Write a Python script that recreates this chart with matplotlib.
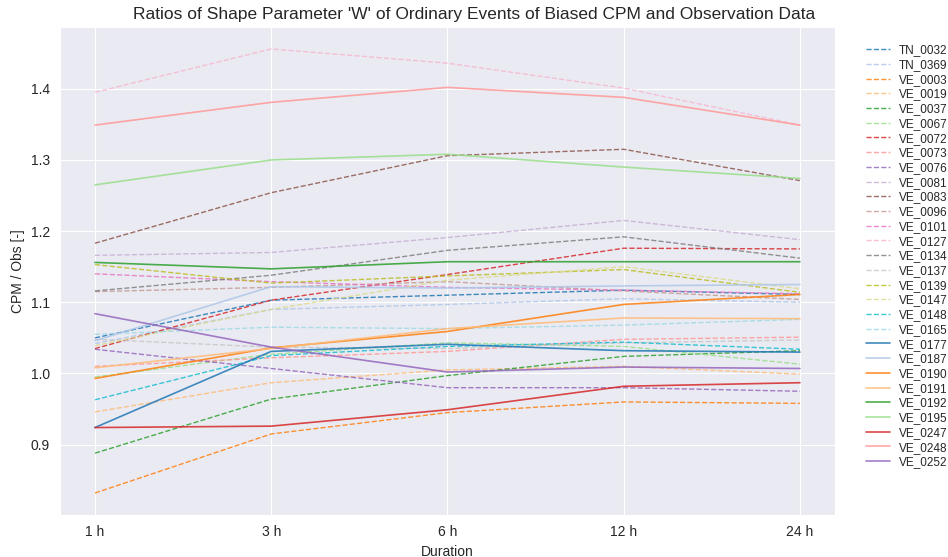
import numpy as np
import matplotlib
matplotlib.use("Agg")
import matplotlib.pyplot as plt
import seaborn as sns

sns.set_style("darkgrid")
plt.rcParams['font.family'] = ['Liberation Sans', 'DejaVu Sans']

# =========================
# DATA
# =========================

durations = ["1 h", "3 h", "6 h", "12 h", "24 h"]

stations_dashed = ["TN_0032", "TN_0369", "VE_0003", "VE_0019", "VE_0037",
                   "VE_0067", "VE_0072", "VE_0073", "VE_0076", "VE_0081",
                   "VE_0083", "VE_0096", "VE_0101", "VE_0127", "VE_0134",
                   "VE_0137", "VE_0139", "VE_0147", "VE_0148", "VE_0165"]
stations_solid = ["VE_0177", "VE_0187", "VE_0190", "VE_0191", "VE_0192",
                  "VE_0195", "VE_0247", "VE_0248", "VE_0252"]

TN_0032 = [1.050, 1.103, 1.110, 1.117, 1.111]
TN_0369 = [1.042, 1.090, 1.097, 1.105, 1.100]
VE_0003 = [0.832, 0.915, 0.945, 0.960, 0.958]
VE_0019 = [0.946, 0.987, 1.005, 1.010, 0.999]
VE_0037 = [0.888, 0.964, 0.997, 1.024, 1.032]
VE_0067 = [0.995, 1.027, 1.043, 1.038, 1.013]
VE_0072 = [1.035, 1.103, 1.139, 1.176, 1.175]
VE_0073 = [1.010, 1.022, 1.031, 1.048, 1.051]
VE_0076 = [1.034, 1.007, 0.980, 0.980, 0.975]
VE_0081 = [1.166, 1.170, 1.191, 1.215, 1.188]
VE_0083 = [1.183, 1.254, 1.306, 1.315, 1.271]
VE_0096 = [1.115, 1.121, 1.129, 1.116, 1.104]
VE_0101 = [1.140, 1.129, 1.121, 1.117, 1.112]
VE_0127 = [1.395, 1.456, 1.436, 1.401, 1.349]
VE_0134 = [1.116, 1.138, 1.173, 1.192, 1.162]
VE_0137 = [1.048, 1.037, 1.035, 1.043, 1.047]
VE_0139 = [1.153, 1.127, 1.137, 1.146, 1.114]
VE_0147 = [1.039, 1.090, 1.131, 1.150, 1.119]
VE_0148 = [0.963, 1.025, 1.038, 1.044, 1.034]
VE_0165 = [1.055, 1.065, 1.063, 1.068, 1.076]

VE_0177 = [0.924, 1.031, 1.041, 1.032, 1.030]
VE_0187 = [1.046, 1.122, 1.120, 1.123, 1.125]
VE_0190 = [0.993, 1.036, 1.059, 1.097, 1.111]
VE_0191 = [1.008, 1.035, 1.063, 1.078, 1.077]
VE_0192 = [1.156, 1.147, 1.157, 1.157, 1.157]
VE_0195 = [1.265, 1.300, 1.308, 1.290, 1.274]
VE_0247 = [0.924, 0.926, 0.949, 0.982, 0.987]
VE_0248 = [1.349, 1.381, 1.402, 1.388, 1.349]
VE_0252 = [1.084, 1.037, 1.002, 1.009, 1.007]

dashed_values = [TN_0032, TN_0369, VE_0003, VE_0019, VE_0037, VE_0067,
                 VE_0072, VE_0073, VE_0076, VE_0081, VE_0083, VE_0096,
                 VE_0101, VE_0127, VE_0134, VE_0137, VE_0139, VE_0147,
                 VE_0148, VE_0165]
solid_values = [VE_0177, VE_0187, VE_0190, VE_0191, VE_0192, VE_0195,
                VE_0247, VE_0248, VE_0252]

# =========================
# PLOT
# =========================

cmap = plt.get_cmap("tab20")
x = np.arange(len(durations))

fig, ax = plt.subplots(figsize=(9.48, 5.57), dpi=100)

for i, (name, vals) in enumerate(zip(stations_dashed, dashed_values)):
    ax.plot(x, vals, linestyle="--", linewidth=1.0, alpha=0.85,
            color=cmap(i % 20), label=name)

for i, (name, vals) in enumerate(zip(stations_solid, solid_values)):
    ax.plot(x, vals, linestyle="-", linewidth=1.2, alpha=0.85,
            color=cmap(i % 20), label=name)

ax.set_xticks(x)
ax.set_xticklabels(durations)
ax.tick_params(labelsize=10)
ax.set_xlabel("Duration", fontsize=10)
ax.set_ylabel("CPM / Obs [-]", fontsize=10)
fig.suptitle("Ratios of Shape Parameter 'W' of Ordinary Events of Biased CPM and Observation Data",
             fontsize=12.5, x=0.5, y=0.987)

ax.legend(loc="center left", bbox_to_anchor=(1.026, 0.53), frameon=False,
          fontsize=8.5, labelspacing=0.23)

fig.subplots_adjust(left=0.063, right=0.881, top=0.952, bottom=0.075)
fig.savefig("out.png", dpi=100)
